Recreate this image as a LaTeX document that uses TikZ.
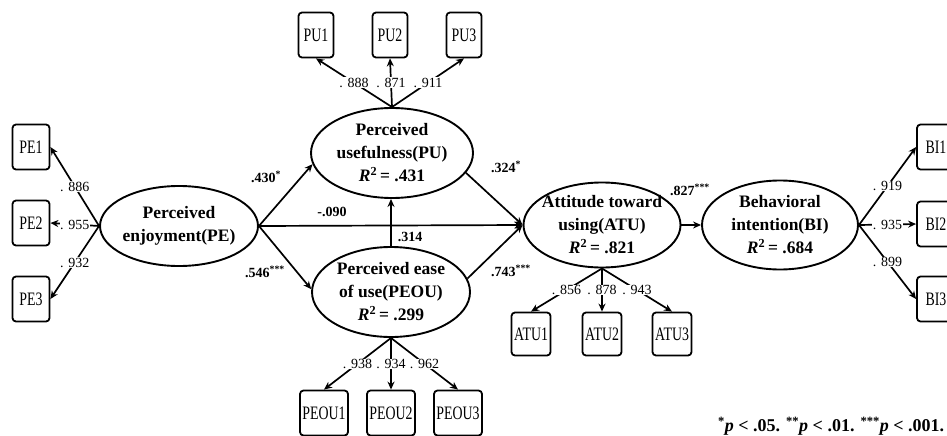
\documentclass[tikz,border=0pt]{standalone}
\usepackage{fontspec}
\setmainfont{Liberation Serif}
\newfontfamily\boxfont[FakeStretch=0.73]{Liberation Serif}
\usetikzlibrary{shapes.geometric,arrows.meta}

\begin{document}
\begin{tikzpicture}[x=1pt, y=-1pt, >={Stealth[length=8pt,width=7pt]}, line width=1.7pt,
  latent/.style={ellipse, draw, line width=1.9pt, align=center, inner xsep=-20pt, inner ysep=-8pt,
    font=\fontsize{17.5}{23}\selectfont\bfseries},
  item/.style={draw, rounded corners=3.5pt, line width=1.8pt, minimum height=45pt, inner sep=1pt,
    font=\fontsize{19}{21}\boxfont},
  load/.style={midway, fill=white, inner sep=0.5pt, font=\fontsize{14}{16}\selectfont},
  coef/.style={inner sep=0pt, font=\fontsize{14}{16}\selectfont\bfseries}]
	\useasboundingbox (0,0) rectangle (947,436);
	
	% Latente Konstrukte
	\node[latent, minimum width=158pt, minimum height=80pt] (PE) at (179,226) {Perceived\\enjoyment(PE)};
	\node[latent, minimum width=162pt, minimum height=90pt] (PU) at (392,153) {Perceived\\usefulness(PU)\\\textit{R}\textsuperscript{2}\,= .431};
	\node[latent, minimum width=158pt, minimum height=90pt] (PEOU) at (391,292) {Perceived ease\\of use(PEOU)\\\textit{R}\textsuperscript{2}\,= .299};
	\node[latent, minimum width=157pt, minimum height=85pt] (ATU) at (602,225) {Attitude toward\\using(ATU)\\\textit{R}\textsuperscript{2}\,= .821};
	\node[latent, minimum width=156pt, minimum height=89pt] (BI) at (780,225) {Behavioral\\intention(BI)\\\textit{R}\textsuperscript{2}\,= .684};
	
	% Indikatoren
	\node[item, minimum width=37pt] (PE1) at (31,147) {PE1};
	\node[item, minimum width=37pt] (PE2) at (31,223) {PE2};
	\node[item, minimum width=37pt] (PE3) at (31,299) {PE3};
	\node[item, minimum width=35pt] (PU1) at (316,35) {PU1};
	\node[item, minimum width=35pt] (PU2) at (390,35) {PU2};
	\node[item, minimum width=35pt] (PU3) at (464,35) {PU3};
	\node[item, minimum width=48pt] (PEOU1) at (324,413) {PEOU1};
	\node[item, minimum width=48pt] (PEOU2) at (391,413) {PEOU2};
	\node[item, minimum width=48pt] (PEOU3) at (458,413) {PEOU3};
	\node[item, minimum width=39pt, minimum height=43pt] (ATU1) at (531,334) {ATU1};
	\node[item, minimum width=39pt, minimum height=43pt] (ATU2) at (602,334) {ATU2};
	\node[item, minimum width=39pt, minimum height=43pt] (ATU3) at (672,334) {ATU3};
	\node[item, minimum width=38pt] (BI1) at (936,147) {BI1};
	\node[item, minimum width=38pt] (BI2) at (936,224) {BI2};
	\node[item, minimum width=38pt] (BI3) at (936,299) {BI3};
	
	% Ladungen
	\draw[->] (PE.west) -- (PE1.east) node[load] {. 886};
	\draw[->] (PE.west) -- (PE2.east) node[load] {. 955};
	\draw[->] (PE.west) -- (PE3.east) node[load] {. 932};
	\draw[->] (PU.north) -- (PU1.south) node[load] {. 888};
	\draw[->] (PU.north) -- (PU2.south) node[load] {. 871};
	\draw[->] (PU.north) -- (PU3.south) node[load] {. 911};
	\draw[->] (PEOU.south) -- (PEOU1.north) node[load] {. 938};
	\draw[->] (PEOU.south) -- (PEOU2.north) node[load] {. 934};
	\draw[->] (PEOU.south) -- (PEOU3.north) node[load] {. 962};
	\draw[->] (ATU.south) -- (ATU1.north) node[load] {. 856};
	\draw[->] (ATU.south) -- (ATU2.north) node[load] {. 878};
	\draw[->] (ATU.south) -- (ATU3.north) node[load] {. 943};
	\draw[->] (BI.east) -- (BI1.west) node[load] {. 919};
	\draw[->] (BI.east) -- (BI2.west) node[load] {. 935};
	\draw[->] (BI.east) -- (BI3.west) node[load] {. 899};
	
	% Strukturpfade
	\draw[->] (PE.east) -- (PU.188);
	\draw[->] (PE.east) -- (PEOU.178);
	\draw[->] (PE.east) -- (ATU.west);
	\draw[->] (PEOU.north) -- (PEOU.north |- PU.south);
	\draw[->] (PU.-15) -- (ATU.west);
	\draw[->] (PEOU.10) -- (ATU.west);
	\draw[->] (ATU.east) -- (BI.west);
	
	% Pfadkoeffizienten
	\node[coef] (c430) at (266,177) {.430\textsuperscript{*}};
	\node[coef] (c546) at (265,272) {.546\textsuperscript{***}};
	\node[coef] (c090) at (332,212) {-.090};
	\node[coef] (c314) at (410,237) {.314};
	\node[coef] (c324) at (506,167) {.324\textsuperscript{*}};
	\node[coef] (c743) at (511,271) {.743\textsuperscript{***}};
	\node[coef] (c827) at (690,190) {.827\textsuperscript{***}};
	
	% Signifikanz
	\node[anchor=east, inner sep=0pt, font=\fontsize{18}{20}\selectfont\bfseries] (note) at (945,426)
		{\textsuperscript{*}\textit{p} < .05. \textsuperscript{**}\textit{p} < .01. \textsuperscript{***}\textit{p} < .001.};
\end{tikzpicture}
\end{document}
